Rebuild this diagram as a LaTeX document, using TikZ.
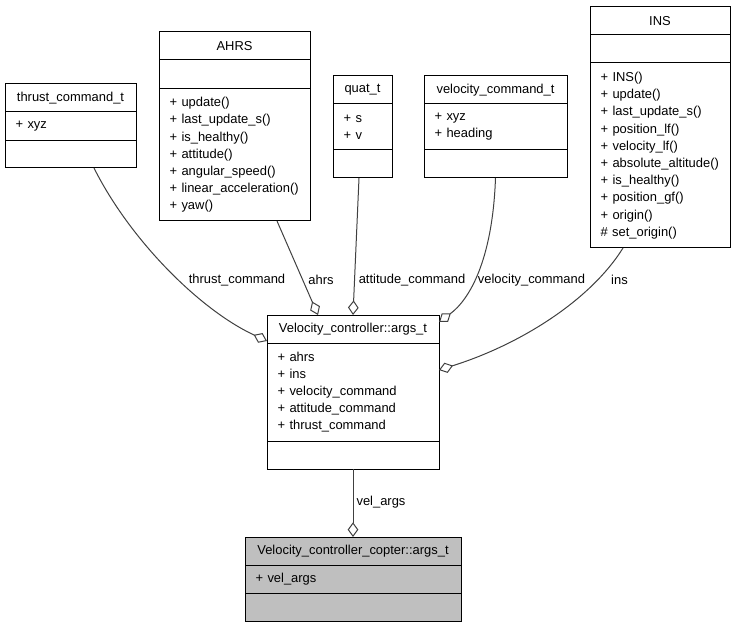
\documentclass[tikz,border=0pt]{standalone}
\usepackage{fontspec}
\setmainfont{Liberation Sans}
\usetikzlibrary{arrows.meta, positioning, calc}

\definecolor{edgegray}{HTML}{404040}
\definecolor{mainfill}{HTML}{BFBFBF}

\begin{document}
\begin{tikzpicture}[
    x=0.75pt, y=-0.75pt,
    every node/.style={font=\fontsize{9.7}{12.9}\selectfont},
    classhead/.style={
        rectangle, draw=black, line width=0.75pt, fill=white,
        minimum height=21pt, inner sep=0pt, outer sep=0pt,
        anchor=north west, align=center
    },
    classbody/.style={
        rectangle, draw=black, line width=0.75pt, fill=white,
        inner xsep=8pt, inner ysep=0pt, outer sep=0pt,
        align=left, minimum height=21pt
    },
    aggr/.style={{Diamond[open, length=11pt, width=8pt]}-, line width=0.75pt, draw=edgegray},
    edgelabel/.style={inner sep=1pt}
]
\useasboundingbox (0,0) rectangle (735,627);

% thrust_command_t
\node[classhead, minimum width=98.25pt] (tcHead) at (5,84) {thrust\_command\_t};
\node[classbody, text width=82.25pt, minimum height=21.75pt, below=0pt of tcHead] (tcAttr) {+ xyz};
\node[classbody, text width=82.25pt, minimum height=20.25pt, below=0pt of tcAttr] (tcOps) {};

% AHRS
\node[classhead, minimum width=113.25pt] (ahrsHead) at (159,32) {AHRS};
\node[classbody, text width=97.25pt, minimum height=21.75pt, below=0pt of ahrsHead] (ahrsAttr) {};
\node[classbody, text width=97.25pt, minimum height=99pt, below=0pt of ahrsAttr] (ahrsOps)
    {+ update()\\+ last\_update\_s()\\+ is\_healthy()\\+ attitude()\\+ angular\_speed()\\+ linear\_acceleration()\\+ yaw()};

% quat_t
\node[classhead, minimum width=44.25pt] (quatHead) at (333,76) {quat\_t};
\node[classbody, text width=28.25pt, minimum height=34.5pt, below=0pt of quatHead] (quatAttr) {+ s\\+ v};
\node[classbody, text width=28.25pt, minimum height=21pt, below=0pt of quatAttr] (quatOps) {};

% velocity_command_t
\node[classhead, minimum width=107.25pt] (vcmdHead) at (424,76) {velocity\_command\_t};
\node[classbody, text width=91.25pt, minimum height=34.5pt, below=0pt of vcmdHead] (vcmdAttr) {+ xyz\\+ heading};
\node[classbody, text width=91.25pt, minimum height=21pt, below=0pt of vcmdAttr] (vcmdOps) {};

% INS
\node[classhead, minimum width=105pt] (insHead) at (590,7) {INS};
\node[classbody, text width=89pt, minimum height=21pt, below=0pt of insHead] (insAttr) {};
\node[classbody, text width=89pt, minimum height=138.75pt, below=0pt of insAttr] (insOps)
    {+ INS()\\+ update()\\+ last\_update\_s()\\+ position\_lf()\\+ velocity\_lf()\\+ absolute\_altitude()\\+ is\_healthy()\\+ position\_gf()\\+ origin()\\\# set\_origin()};

% Velocity_controller::args_t
\node[classhead, minimum width=129pt] (argsHead) at (267,315) {Velocity\_controller::args\_t};
\node[classbody, text width=113pt, minimum height=73.5pt, below=0pt of argsHead] (argsBody)
    {+ ahrs\\+ ins\\+ velocity\_command\\+ attitude\_command\\+ thrust\_command};
\node[classbody, text width=113pt, minimum height=21pt, below=0pt of argsBody] (argsOps) {};

% Velocity_controller_copter::args_t
\node[classhead, fill=mainfill, minimum width=162pt] (copterHead) at (245,537) {Velocity\_controller\_copter::args\_t};
\node[classbody, fill=mainfill, text width=146pt, minimum height=21pt, below=0pt of copterHead] (copterAttr) {+ vel\_args};
\node[classbody, fill=mainfill, text width=146pt, minimum height=21pt, below=0pt of copterAttr] (copterOps) {};

% Connectors
\draw[aggr] ($(argsHead.south west)+(0,-2)$) .. controls +(-67,-31) and +(36,72) .. ($(tcOps.south)+(23.5,0)$);
\draw[aggr] ($(argsHead.north)+(-35,0)$) -- ($(ahrsOps.south)+(42.5,0)$);
\draw[aggr] (argsHead.north) -- ($(quatOps.south)+(-3.5,0)$);
\draw[aggr] ($(argsHead.north east)+(0,7)$) .. controls +(30,-22) and +(-3,83) .. (vcmdOps.south);
\draw[aggr] ($(argsBody.north east)+(0,27)$) .. controls +(80,-25) and +(-33,53) .. ($(insOps.south)+(-37,0)$);
\draw[aggr] (copterHead.north) -- (argsOps.south);

% Labels
\node[edgelabel] (lblThrust) at (237,280) {thrust\_command};
\node[edgelabel] (lblAhrs) at (321,280) {ahrs};
\node[edgelabel] (lblAtt) at (412,280) {attitude\_command};
\node[edgelabel] (lblVel) at (531.5,280) {velocity\_command};
\node[edgelabel] (lblIns) at (619.5,280) {ins};
\node[edgelabel] (lblVelArgs) at (381,502) {vel\_args};

\end{tikzpicture}
\end{document}
